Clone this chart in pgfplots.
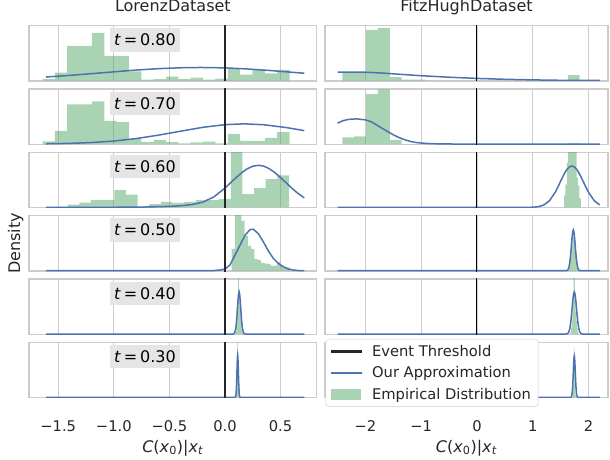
\documentclass[border=0pt]{standalone}
\usepackage{fontspec}
\setmainfont{DejaVu Sans}
\usepackage{pgfplots}
\pgfplotsset{compat=1.18}

\definecolor{sbblue}{HTML}{4C72B0}
\definecolor{sbgreen}{HTML}{55A868}
\definecolor{frame}{HTML}{CCCCCC}
\definecolor{txt}{HTML}{262626}
\definecolor{lblbox}{HTML}{E5E5E5}

\newcommand\ticks{\fontsize{14.7}{17.5}\selectfont}
\newcommand\tlab[1]{\node[fill=lblbox, minimum width=70pt, minimum height=23.3pt, inner sep=0pt]
  at (rel axis cs:0.403,0.741) {\textit{t}\hspace{0.18em}=\hspace{0.18em}#1};}

\pgfplotsset{
  panel/.style={scale only axis, height=55.4pt, ymin=-0.3, ymax=55.4, ytick=\empty,
    xmajorgrids, grid style={frame, line width=0.9pt},
    axis line style={frame, line width=1.25pt},
    major tick length=0pt, xticklabels={},
    xticklabel style={anchor=base, yshift=-34pt, font=\ticks, text=txt},
    title style={at={(axis description cs:0.5,1)}, anchor=base, yshift=8pt, text=txt},
    xlabel style={at={(axis description cs:0.5,0)}, anchor=base, yshift=-54.6pt, text=txt},
    ylabel style={at={(axis description cs:-0.046,0.5)}, anchor=center, text=txt},
  },
  lp/.style={panel, width=287.7pt, xmin=-1.763, xmax=0.825, xtick={-1.5,-1,-0.5,0,0.5}},
  rp/.style={panel, width=283pt, xmin=-2.724, xmax=2.348, xtick={-2,-1,0,1,2}},
  hist/.style={ybar interval, fill=sbgreen, fill opacity=0.5, draw=none},
  est/.style={sbblue, line width=1.5pt},
  thrL/.style={txt, line width=1.7pt},
  thrR/.style={black, line width=1pt},
  lthr/.style={legend image code/.code={\fill[sharp corners, txt] (0pt,-0.8pt) rectangle (30pt,0.8pt);}},
  lest/.style={legend image code/.code={\fill[sharp corners, sbblue] (0pt,-0.75pt) rectangle (30pt,0.75pt);}},
  larea/.style={legend image code/.code={\fill[sharp corners, draw=none, sbgreen, fill opacity=0.5] (0pt,-5.5pt) rectangle (30pt,5.5pt);}},
}

\begin{document}
\fontsize{16}{19}\selectfont
\begin{tikzpicture}
\useasboundingbox (0,0) rectangle (610pt,460pt);

% ---------------- LorenzDataset ----------------
\begin{axis}[lp, at={(29pt,379pt)}, anchor=south west, title={LorenzDataset}]
\addplot[hist] coordinates {(-1.641,1.7)(-1.530,8)(-1.419,35)(-1.308,35)(-1.197,48)(-1.086,25)(-0.975,25)(-0.863,9.3)(-0.752,1)(-0.641,1.7)(-0.530,4)(-0.419,1.7)(-0.308,3)(-0.197,1)(-0.086,2)(0.025,12.3)(0.136,6)(0.247,10.7)(0.359,7.3)(0.470,11)(0.581,11)};
\addplot[est] coordinates {(-1.61,3.7)(-1.4,5.3)(-1.2,7.1)(-1.0,8.9)(-0.8,10.7)(-0.6,12.1)(-0.4,13.0)(-0.22,13.3)(0,12.9)(0.2,11.8)(0.4,10.3)(0.6,8.5)(0.713,7.5)};
\addplot[thrL] coordinates {(0,-1)(0,60)};
\tlab{0.80}
\end{axis}

\begin{axis}[lp, at={(29pt,315.66pt)}, anchor=south west]
\addplot[hist] coordinates {(-1.641,2.7)(-1.530,13.3)(-1.419,40)(-1.308,40)(-1.197,43)(-1.086,23.3)(-0.975,22)(-0.863,5)(-0.752,2)(-0.641,4.3)(-0.530,2)(-0.419,0.7)(-0.308,1.7)(-0.197,2.3)(-0.086,0.7)(0.025,10.3)(0.136,3.3)(0.247,3.3)(0.359,6.3)(0.470,12.3)(0.581,12.3)};
\addplot[est] coordinates {(-1.61,0.25)(-1.4,0.66)(-1.2,1.5)(-1.0,3.0)(-0.8,5.5)(-0.6,8.9)(-0.4,12.9)(-0.2,16.8)(0,19.5)(0.17,20.3)(0.35,19.4)(0.55,16.6)(0.713,13.5)};
\addplot[thrL] coordinates {(0,-1)(0,60)};
\tlab{0.70}
\end{axis}

\begin{axis}[lp, at={(29pt,252.32pt)}, anchor=south west]
\addplot[hist] coordinates {(-1.520,0.5)(-1.415,2.8)(-1.310,4.8)(-1.206,7.5)(-1.101,7.5)(-0.996,17.5)(-0.891,12.8)(-0.786,0.5)(-0.682,3.2)(-0.577,5.5)(-0.472,4.5)(-0.367,5.5)(-0.262,7.5)(-0.158,7.2)(-0.053,8.3)(0.052,60)(0.157,13.3)(0.262,19.3)(0.366,28.3)(0.471,32.3)(0.576,32.3)};
\addplot[est] coordinates {(-1.61,0)(-1.0,0.1)(-0.7,0.4)(-0.5,1.0)(-0.4,1.6)(-0.3,2.8)(-0.2,5.2)(-0.1,10.5)(0,19.4)(0.05,24.8)(0.1,29.9)(0.15,34.8)(0.2,38.8)(0.25,41.4)(0.3,42.3)(0.35,41.4)(0.4,38.8)(0.45,34.8)(0.5,29.9)(0.55,24.8)(0.6,19.4)(0.65,14.6)(0.713,9.6)};
\addplot[thrL] coordinates {(0,-1)(0,60)};
\tlab{0.60}
\end{axis}

\begin{axis}[lp, at={(29pt,188.98pt)}, anchor=south west, ylabel={Density}]
\addplot[hist] coordinates {(0.060,22)(0.089,60)(0.118,60)(0.148,50)(0.177,35)(0.206,25)(0.235,22)(0.264,12)(0.294,10.7)(0.323,8)(0.352,7.3)(0.381,7)(0.410,5)(0.440,5)(0.469,9)(0.498,4.7)(0.527,3.3)(0.556,3)(0.586,3)};
\addplot[est] coordinates {(-1.61,0)(-0.3,0)(-0.1,0.2)(-0.045,0.7)(0,1.7)(0.045,5.7)(0.09,15.7)(0.135,25.7)(0.18,35.7)(0.225,41.3)(0.255,41.7)(0.3,37.3)(0.345,29)(0.39,20)(0.435,12.3)(0.48,7.3)(0.525,4)(0.57,1.7)(0.615,0.7)(0.66,0.2)(0.713,0)};
\addplot[thrL] coordinates {(0,-1)(0,60)};
\tlab{0.50}
\end{axis}

\begin{axis}[lp, at={(29pt,125.64pt)}, anchor=south west]
\addplot[hist] coordinates {(0.094,2)(0.102,9)(0.110,25)(0.118,60)(0.126,36)(0.134,24)(0.142,12)(0.150,4)(0.158,1)(0.166,1)};
\addplot[est] coordinates {(-1.61,0)(0.067,0)(0.077,0.17)(0.087,1.2)(0.097,5.7)(0.102,10.6)(0.107,17.5)(0.112,25.8)(0.117,34.0)(0.122,40.2)(0.127,42.5)(0.132,40.2)(0.137,34.0)(0.142,25.8)(0.147,17.5)(0.152,10.6)(0.157,5.7)(0.167,1.2)(0.177,0.17)(0.187,0)(0.713,0)};
\addplot[thrL] coordinates {(0,-1)(0,60)};
\tlab{0.40}
\end{axis}

\begin{axis}[lp, at={(29pt,62.3pt)}, anchor=south west,
  xticklabels={−1.5,−1.0,−0.5,0.0,0.5}, xlabel={\textit{C}(\textit{x}\textsubscript{0})|\textit{x}\textsubscript{\textit{t}}}]
\addplot[hist] coordinates {(0.100,3)(0.104,12)(0.108,28)(0.112,56)(0.116,25)(0.120,8)(0.124,2)(0.128,2)};
\addplot[est] coordinates {(-1.61,0)(0.089,0)(0.094,0.4)(0.098,2.0)(0.101,5.7)(0.104,13.0)(0.106,19.9)(0.108,27.8)(0.110,35.1)(0.112,40.5)(0.114,42.5)(0.116,40.5)(0.118,35.1)(0.120,27.8)(0.122,19.9)(0.124,13.0)(0.127,5.7)(0.130,2.0)(0.134,0.4)(0.139,0)(0.713,0)};
\addplot[thrL] coordinates {(0,-1)(0,60)};
\tlab{0.30}
\end{axis}

% ---------------- FitzHughDataset ----------------
\begin{axis}[rp, at={(325pt,379pt)}, anchor=south west, title={FitzHughDataset}]
\addplot[hist] coordinates {(-2.414,7.7)(-2.201,7.7)(-1.988,51)(-1.776,53)(-1.563,3.7)(-1.350,1)(-1.137,1)(-0.925,0)(-0.712,0)(-0.499,0)(-0.287,0)(-0.074,0)(0.139,0)(0.352,0)(0.564,0)(0.777,0)(0.990,0)(1.202,0)(1.415,0)(1.627,5.7)(1.840,5.7)};
\addplot[est] coordinates {(-2.5,8.7)(-2.2,8.7)(-2.0,8.5)(-1.7,7.7)(-1.4,6.5)(-1.0,5.0)(-0.5,3.5)(0,2.3)(0.5,1.4)(1.0,0.8)(1.5,0.4)(2.2,0.2)};
\addplot[thrR] coordinates {(0,-1)(0,60)};
\end{axis}

\begin{axis}[rp, at={(325pt,315.66pt)}, anchor=south west]
\addplot[hist] coordinates {(-2.414,6.7)(-2.201,7.7)(-1.988,50.3)(-1.776,55)(-1.563,4.3)(-1.350,0)(-1.137,0)(-0.925,0)(-0.712,0)(-0.499,0)(-0.287,0)(-0.074,0)(0.139,0)(0.352,0)(0.564,0)(0.777,0)(0.990,0)(1.202,0)(1.415,0)(1.627,0.7)(1.840,0.7)};
\addplot[est] coordinates {(-2.5,21)(-2.4,23.5)(-2.3,24.8)(-2.15,25.3)(-2.0,24.3)(-1.9,22.5)(-1.8,19.3)(-1.7,15.8)(-1.6,12.5)(-1.5,9.3)(-1.4,6.6)(-1.3,4.4)(-1.2,2.7)(-1.1,1.6)(-1.0,1.0)(-0.9,0.6)(-0.7,0.2)(-0.4,0)(2.2,0)};
\addplot[thrR] coordinates {(0,-1)(0,60)};
\end{axis}

\begin{axis}[rp, at={(325pt,252.32pt)}, anchor=south west]
\addplot[hist] coordinates {(1.560,12)(1.585,23)(1.610,45)(1.635,60)(1.660,60)(1.685,60)(1.710,60)(1.735,60)(1.760,60)(1.785,30)(1.810,22)(1.835,9)(1.860,9)};
\addplot[est] coordinates {(-2.5,0)(0.9,0)(1.0,0.16)(1.1,0.7)(1.2,2.45)(1.3,6.8)(1.4,15.0)(1.45,20.5)(1.5,26.5)(1.55,32.3)(1.6,37.2)(1.65,40.5)(1.7,41.7)(1.75,40.5)(1.8,37.2)(1.85,32.3)(1.9,26.5)(1.95,20.5)(2.0,15.0)(2.1,6.8)(2.2,2.45)};
\addplot[thrR] coordinates {(0,-1)(0,60)};
\end{axis}

\begin{axis}[rp, at={(325pt,188.98pt)}, anchor=south west]
\addplot[hist] coordinates {(1.63,1)(1.65,5)(1.67,14)(1.69,26)(1.71,34)(1.73,33)(1.75,25)(1.77,13)(1.79,5)(1.81,1)(1.83,1)};
\addplot[est] coordinates {(-2.5,0)(1.58,0)(1.606,0.1)(1.626,0.7)(1.646,3.0)(1.666,9.4)(1.676,14.8)(1.686,21.3)(1.696,28.4)(1.706,34.8)(1.716,39.4)(1.726,41)(1.736,39.4)(1.746,34.8)(1.756,28.4)(1.766,21.3)(1.776,14.8)(1.786,9.4)(1.806,3.0)(1.826,0.7)(1.846,0.1)(1.87,0)(2.2,0)};
\addplot[thrR] coordinates {(0,-1)(0,60)};
\end{axis}

\begin{axis}[rp, at={(325pt,125.64pt)}, anchor=south west]
\addplot[hist] coordinates {(1.672,2)(1.684,6)(1.696,13)(1.708,22)(1.720,33)(1.732,58)(1.744,58)(1.756,33)(1.768,22)(1.780,13)(1.792,6)(1.804,2)(1.816,2)};
\addplot[est] coordinates {(-2.5,0)(1.56,0)(1.604,0.1)(1.624,0.47)(1.644,1.86)(1.664,5.7)(1.684,13.7)(1.694,19.4)(1.704,25.7)(1.714,31.9)(1.724,37.3)(1.734,41)(1.744,42.3)(1.754,41)(1.764,37.3)(1.774,31.9)(1.784,25.7)(1.794,19.4)(1.804,13.7)(1.824,5.7)(1.844,1.86)(1.864,0.47)(1.884,0.1)(1.93,0)(2.2,0)};
\addplot[thrR] coordinates {(0,-1)(0,60)};
\end{axis}

\begin{axis}[rp, at={(325pt,62.3pt)}, anchor=south west,
  xticklabels={−2,−1,0,1,2}, xlabel={\textit{C}(\textit{x}\textsubscript{0})|\textit{x}\textsubscript{\textit{t}}},
  legend style={at={(0.0025,1.06)}, anchor=north west, draw=frame,
    rounded corners=3pt, fill=white, font=\ticks, text=txt, inner xsep=5.3pt, inner ysep=3pt,
    nodes={inner sep=2pt, text height=12pt, text depth=2.5pt, anchor=west}, cells={anchor=west},
    row sep=3pt, column sep=8.5pt},
  legend cell align=left]
\addlegendimage{lthr}
\addlegendimage{lest}
\addlegendimage{larea}
\addplot[hist] coordinates {(1.714,3)(1.724,12)(1.734,50)(1.744,30)(1.754,10)(1.764,2)(1.774,2)};
\addplot[est] coordinates {(-2.5,0)(1.67,0)(1.684,0.16)(1.694,0.9)(1.704,3.5)(1.714,10.4)(1.719,15.9)(1.724,22.5)(1.729,29.5)(1.734,35.7)(1.739,40.1)(1.744,41.7)(1.749,40.1)(1.754,35.7)(1.759,29.5)(1.764,22.5)(1.769,15.9)(1.774,10.4)(1.784,3.5)(1.794,0.9)(1.804,0.16)(1.82,0)(2.2,0)};
\addplot[thrR] coordinates {(0,-1)(0,60)};
\legend{Event Threshold, Our Approximation, Empirical Distribution}
\end{axis}
\end{tikzpicture}
\end{document}
